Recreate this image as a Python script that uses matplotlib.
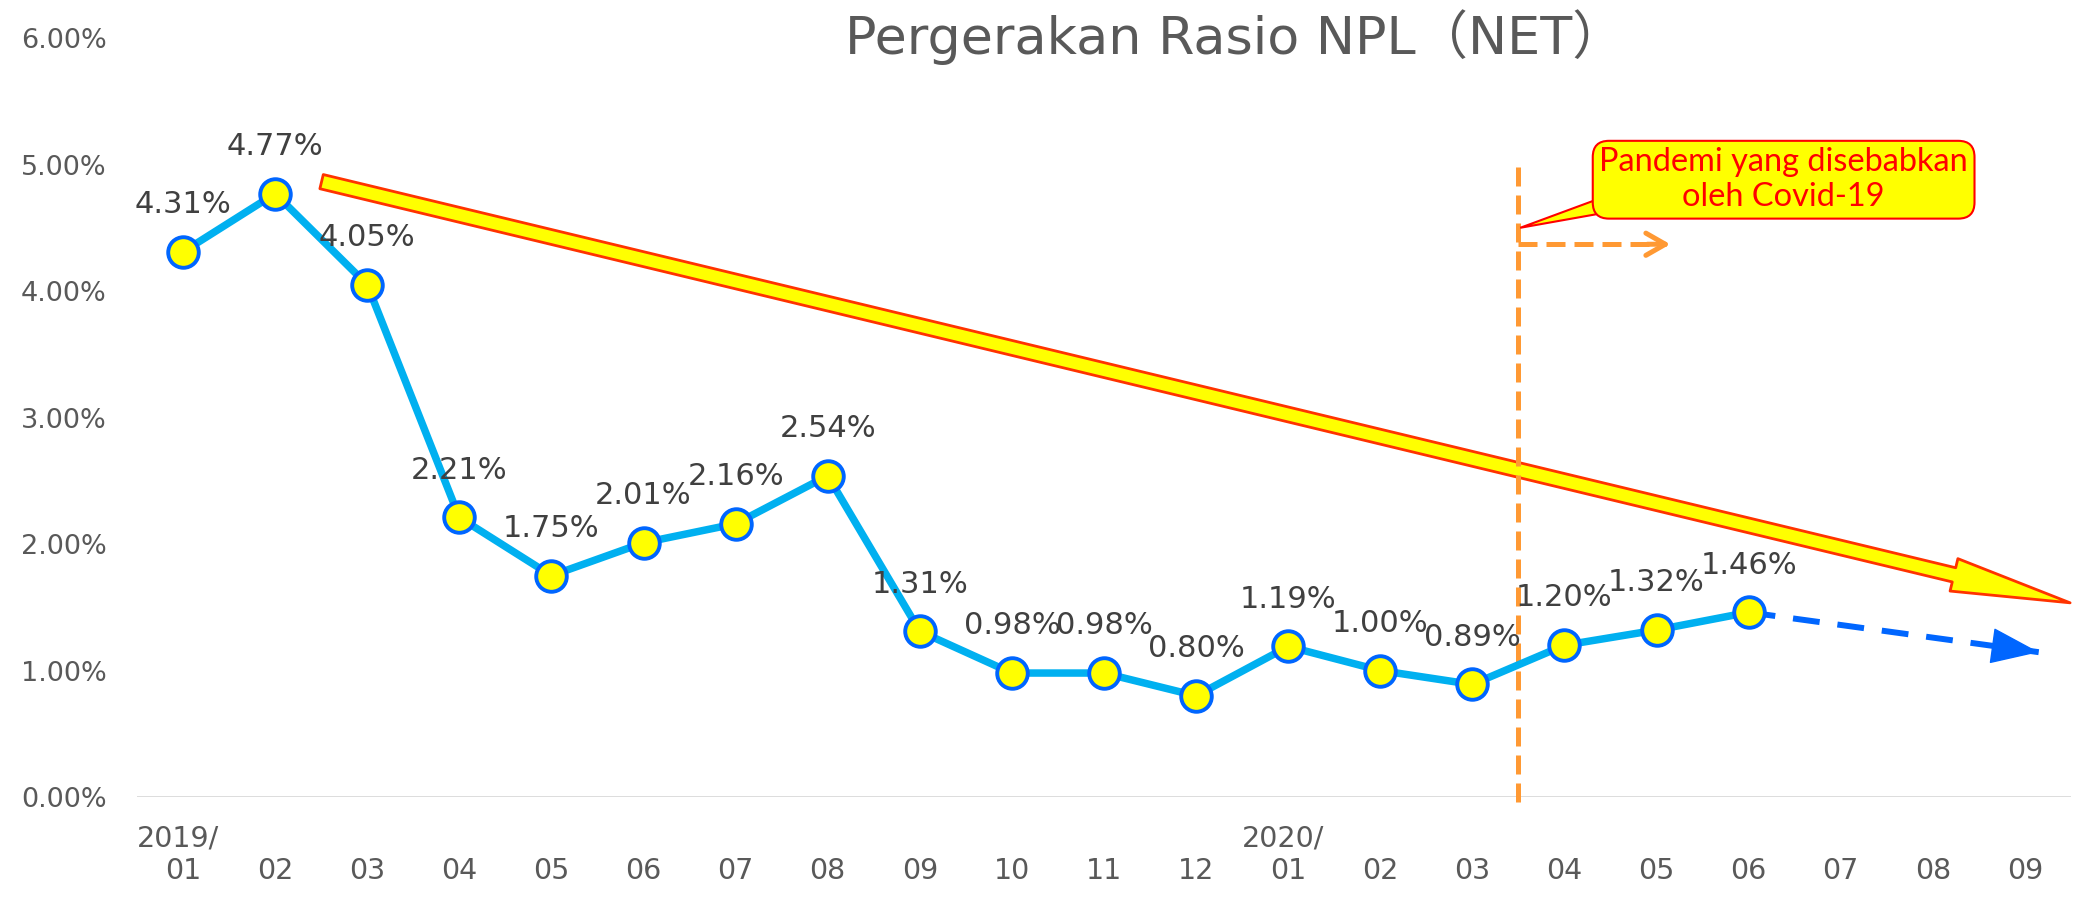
import numpy as np
import matplotlib.pyplot as plt
from matplotlib.patches import FancyArrowPatch, Polygon
from matplotlib.ticker import FuncFormatter

# data
months = ['01', '02', '03', '04', '05', '06', '07', '08', '09', '10', '11', '12',
          '01', '02', '03', '04', '05', '06', '07', '08', '09']
years = ['2019/', '2020/']
year_start = [0, 12]
npl = [4.31, 4.77, 4.05, 2.21, 1.75, 2.01, 2.16, 2.54, 1.31, 0.98, 0.98, 0.80,
       1.19, 1.00, 0.89, 1.20, 1.32, 1.46]
forecast_end = (20.15, 1.145)
pandemic_x = 14.5
title = 'Pergerakan Rasio NPL（NET）'
callout = 'Pandemi yang disebabkan\noleh Covid-19'

# colours
grey_txt = '#595959'
lbl_txt = '#404040'
line_c = '#00B0F0'
edge_c = '#0066FF'
orange = '#FF9933'

fig = plt.figure(figsize=(20.82, 9.06), dpi=100)
ax = fig.add_axes([0.0658, 0.1203, 0.9289, 0.8377])

x = np.arange(len(npl))
ax.set_xlim(-0.5, len(months) - 0.5)
ax.set_ylim(0, 6)
for s in ax.spines.values():
    s.set_visible(False)
ax.axhline(0, color='#D9D9D9', lw=2, zorder=1)

ax.set_yticks(np.arange(0, 7))
ax.yaxis.set_major_formatter(FuncFormatter(lambda v, p: f'{v:.2f}%'))
ax.set_xticks(np.arange(len(months)))
ax.set_xticklabels(months)
ax.tick_params(axis='y', length=0, pad=22, labelsize=19.5, labelcolor=grey_txt)
ax.tick_params(axis='x', length=0, pad=43, labelsize=20.5, labelcolor=grey_txt)

for yl, xs in zip(years, year_start):
    ax.annotate(yl, xy=(xs - 0.5, 0), xycoords=('data', 'axes fraction'),
                xytext=(0, -30), textcoords='offset points',
                ha='left', va='center', fontsize=20.5, color=grey_txt)

# main series
ax.plot(x, npl, color=line_c, lw=5.4, marker='o', ms=22, mfc='#FFFF00',
        mec=edge_c, mew=2.8, zorder=6, clip_on=False)
for xi, v in zip(x, npl):
    ax.annotate(f'{v:.2f}%', (xi, v), xytext=(0, 34), textcoords='offset points',
                ha='center', va='center', fontsize=22, color=lbl_txt, zorder=8)

# forecast dashed arrow
fx, fy = forecast_end
ax.plot([x[-1], fx], [npl[-1], fy], color=edge_c, lw=4.3,
        ls=(0, (4.5, 3)), zorder=5, clip_on=False, solid_capstyle='butt')
ax.annotate('', xy=(fx, fy), xytext=(fx - 0.3, fy + 0.03),
            arrowprops=dict(arrowstyle='-|>,head_length=1.6,head_width=0.6',
                            color=edge_c, lw=1, shrinkA=0, shrinkB=0,
                            mutation_scale=20), zorder=5)

# big downward trend arrow
trend = FancyArrowPatch((1.475, 4.87), (20.52, 1.53),
                        arrowstyle='simple,tail_width=10.5,head_width=24,head_length=86',
                        mutation_scale=1, fc='#FFFF00', ec='#FF3300', lw=2,
                        clip_on=False, zorder=3)
ax.add_patch(trend)

# pandemic marker
ax.plot([pandemic_x, pandemic_x], [-0.04, 5.04], color=orange, lw=3.6,
        ls=(0, (3.8, 1.8)), zorder=4, clip_on=False)
ax.plot([pandemic_x, 16.1], [4.37, 4.37], color=orange, lw=3.6,
        ls=(0, (3.8, 1.8)), zorder=4)
ax.annotate('', xy=(16.15, 4.37), xytext=(15.9, 4.37),
            arrowprops=dict(arrowstyle='->,head_length=0.7,head_width=0.4',
                            color=orange, lw=3.6, shrinkA=0, shrinkB=0,
                            mutation_scale=20, capstyle='round'), zorder=4)

# callout
ax.text(17.38, 4.88, callout, ha='center', va='center', fontsize=23.4,
        family='Lato', color='#FF0000', linespacing=1.2, zorder=7,
        bbox=dict(boxstyle='round,pad=0.2,rounding_size=0.5', fc='#FFFF00',
                  ec='#FF0000', lw=1.5))
tail = [(15.6, 4.79), (15.6, 4.64), (14.52, 4.50)]
ax.add_patch(Polygon(tail, closed=True, fc='#FFFF00', ec='#FF0000', lw=1.5,
                     zorder=6))

fig.text(0.593, 0.959, title, ha='center', va='center', fontsize=37.7,
         color=grey_txt, family=['DejaVu Sans', 'Noto Sans CJK JP'])

fig.savefig('out.png', dpi=100)
